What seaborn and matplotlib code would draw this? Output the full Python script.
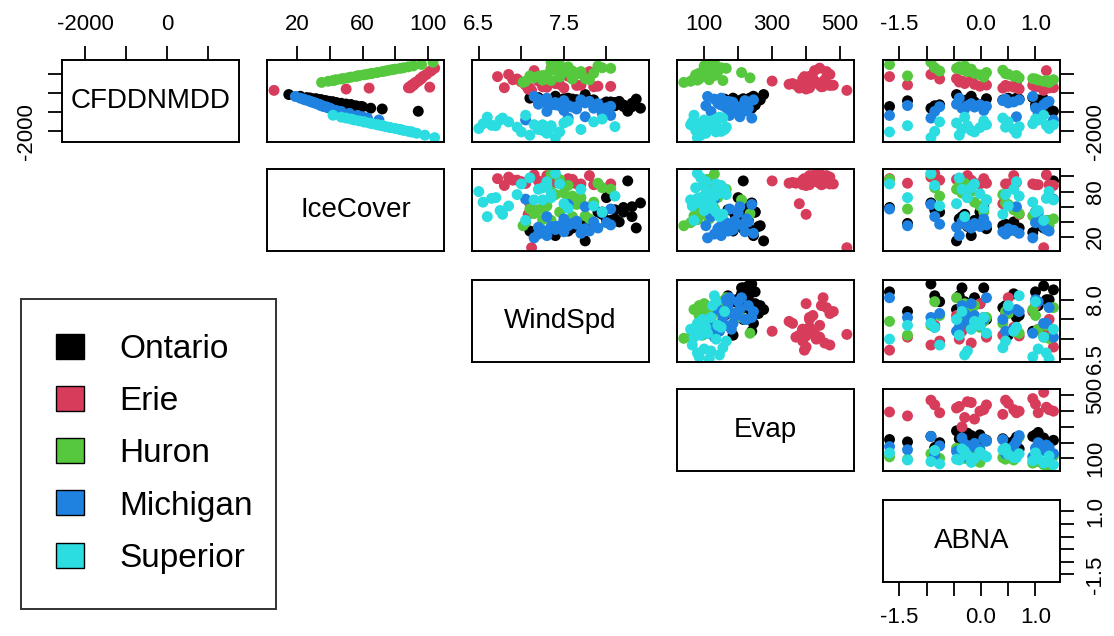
import pandas as pd
import matplotlib
matplotlib.use('Agg')
import matplotlib.pyplot as plt
from matplotlib.patches import Patch
import seaborn as sns


LAKES = ['Ontario', 'Erie', 'Huron', 'Michigan', 'Superior']
COLORS = ['#000000', '#D73C5B', '#55C83E', '#1F82E0', '#2BDCE0']
VARS = ['CFDDNMDD', 'IceCover', 'WindSpd', 'Evap', 'ABNA']

# ABNA is one value per year, shared by all lakes
abna = [-1.68, -1.35, -0.92, -0.85, -0.76, -0.45, -0.35, -0.25, -0.12, -0.02,
        0.10, 0.40, 0.50, 0.60, 0.70, 0.95, 1.05, 1.15, 1.25, 1.33,
        -0.40, -0.30, -0.18, 0.05, 0.45, 0.65, 1.00, 1.20]

ontario_cfdd = [-690, -390, -780, -650, -600, -60, -520, -330, -450, -600,
                -280, -350, -250, -420, -300, -220, -340, -300, -820, -940,
                -480, -560, -150, -700, -380, -250, -610, -450]
ontario_ice = [59, 38, 65, 56, 53, 15, 47, 34, 42, 53, 31, 35, 28, 40, 32, 26, 35, 32, 72, 94,
               44, 50, 22, 60, 37, 28, 53, 42]
ontario_wind = [8.20, 7.70, 8.40, 8.10, 7.95, 7.75, 8.30, 7.65, 8.05, 7.90,
                7.50, 7.80, 7.10, 8.15, 7.60, 7.20, 7.85, 8.35, 8.00, 8.25,
                8.10, 7.95, 7.40, 8.30, 7.85, 7.55, 8.20, 8.00]
ontario_evap = [220, 205, 240, 170, 200, 275, 210, 260, 230, 250,
                215, 225, 185, 210, 160, 240, 265, 230, 200, 215,
                225, 190, 245, 215, 205, 235, 250, 195]

erie_cfdd = [885, 448, 1000, 1330, 760, 780, 650, 1150, 480, 380,
             440, 280, 370, 330, 230, 430, 350, 160, 290, 300,
             600, 520, 720, 900, 420, 560, 350, 1200]
erie_ice = [97, 91, 99, 104, 95, 96, 94, 101, 91, 90, 91, 64, 90, 101, 50, 90, 89, 6, 89, 88,
            93, 92, 95, 97, 90, 92, 89, 102]
erie_wind = [6.72, 7.05, 6.85, 7.35, 6.95, 7.60, 7.20, 7.80, 7.45, 7.90,
             7.05, 7.10, 8.05, 7.30, 7.08, 7.70, 7.25, 7.12, 7.50, 6.80,
             7.00, 7.40, 6.90, 7.55, 7.65, 7.25, 7.85, 7.15]
erie_evap = [395, 370, 470, 440, 390, 420, 300, 460, 350, 400,
             440, 380, 450, 410, 400, 480, 390, 520, 410, 400,
             430, 360, 455, 410, 470, 390, 445, 425]

huron_cfdd = [1520, 920, 1640, 1350, 1180, 1320, 1250, 1150, 1060, 980,
              1100, 1220, 1010, 900, 820, 780, 700, 640, 580, 720,
              1400, 1450, 1280, 860, 1040, 940, 760, 680]
huron_ice = [96, 57, 103, 85, 74, 83, 78, 72, 66, 61, 69, 76, 63, 56, 51, 48, 43, 39, 35, 44,
             88, 91, 80, 53, 65, 58, 47, 42]
huron_wind = [7.45, 7.10, 7.35, 7.95, 7.60, 8.05, 7.50, 7.70, 7.85, 7.30,
              7.55, 7.40, 7.65, 7.20, 7.15, 7.75, 7.25, 7.05, 7.02, 7.80,
              7.55, 7.90, 7.35, 7.45, 7.70, 7.25, 7.60, 7.35]
huron_evap = [110, 95, 130, 150, 100, 165, 120, 140, 85, 75,
              210, 105, 125, 90, 235, 70, 80, 60, 40, 115,
              120, 100, 145, 110, 95, 130, 85, 155]

michigan_cfdd = [-1160, -640, -1300, -950, -700, -570, -780, -650, -720, -600,
                 -680, -380, -500, -450, -340, -160, -1050, -600, -420, -1400,
                 -250, -820, -540, -900, -300, -1230, -760, -480]
michigan_ice = [57, 35, 63, 47, 37, 33, 40, 35, 38, 34, 36, 27, 31, 29, 25, 19, 52, 34, 28, 70,
                22, 41, 32, 44, 24, 60, 39, 30]
michigan_wind = [8.05, 7.55, 7.55, 7.30, 7.65, 7.20, 7.85, 7.45, 7.60, 7.35,
                 8.05, 7.50, 7.75, 7.25, 7.70, 7.15, 7.95, 7.40, 7.80, 7.05,
                 7.30, 7.65, 7.90, 7.50, 7.20, 7.75, 8.00, 7.40]
michigan_evap = [175, 155, 240, 120, 180, 145, 230, 105, 195, 160,
                 210, 220, 140, 180, 245, 110, 200, 150, 170, 130,
                 150, 190, 170, 225, 130, 205, 165, 185]

superior_cfdd = [-2030, -1700, -2330, -2000, -1500, -1560, -1900, -1700, -2030, -1800,
                 -1650, -1300, -1500, -1900, -1750, -1600, -1400, -1150, -1850, -1650,
                 -2200, -1250, -1950, -1450, -1780, -2100, -1350, -1680]
superior_ice = [90, 72, 104, 88, 61, 64, 83, 72, 90, 77, 69, 50, 61, 83, 74, 66, 55, 42, 80, 69,
                98, 47, 85, 58, 76, 93, 53, 71]
superior_wind = [7.00, 7.35, 7.40, 7.30, 6.85, 7.50, 7.70, 6.70, 7.45, 7.35,
                 7.15, 6.78, 7.85, 7.20, 8.10, 6.55, 6.75, 7.05, 6.50, 7.25,
                 7.10, 6.60, 7.25, 7.55, 6.95, 7.30, 7.95, 6.65]
superior_evap = [135, 90, 80, 150, 65, 95, 160, 120, 100, 140,
                 110, 155, 125, 105, 130, 85, 100, 70, 115, 60,
                 90, 145, 75, 120, 165, 105, 135, 80]

# axis ranges and ticks as R's pairs() drew them
LIMITS = {'CFDDNMDD': (-2560, 1760), 'IceCover': (1.7, 109.7), 'WindSpd': (6.42, 8.5),
          'Evap': (20, 541), 'ABNA': (-1.8, 1.45)}
TICKS = {'CFDDNMDD': [-2000, -1000, 0, 1000], 'IceCover': [20, 40, 60, 80, 100],
         'WindSpd': [6.5, 7.0, 7.5, 8.0], 'Evap': [100, 200, 300, 400, 500],
         'ABNA': [-1.5, -1.0, -0.5, 0.0, 0.5, 1.0]}
X_LABELS = {'CFDDNMDD': ['-2000', '', '0', ''], 'IceCover': ['20', '', '60', '', '100'],
            'WindSpd': ['6.5', '', '7.5', ''], 'Evap': ['100', '', '300', '', '500'],
            'ABNA': ['-1.5', '', '', '0.0', '', '1.0']}
Y_LABELS = {'CFDDNMDD': ['-2000', '', '', ''], 'IceCover': ['20', '', '', '80', ''],
            'WindSpd': ['6.5', '', '', '8.0'], 'Evap': ['100', '', '', '', '500'],
            'ABNA': ['-1.5', '', '', '', '', '1.0']}

frames = []
for lake, cfdd, ice, wind, evap in zip(
        LAKES,
        [ontario_cfdd, erie_cfdd, huron_cfdd, michigan_cfdd, superior_cfdd],
        [ontario_ice, erie_ice, huron_ice, michigan_ice, superior_ice],
        [ontario_wind, erie_wind, huron_wind, michigan_wind, superior_wind],
        [ontario_evap, erie_evap, huron_evap, michigan_evap, superior_evap]):
    frames.append(pd.DataFrame({'Lake': lake, 'CFDDNMDD': cfdd, 'IceCover': ice,
                                'WindSpd': wind, 'Evap': evap, 'ABNA': abna}))
df = pd.concat(frames, ignore_index=True)

sns.set_style('ticks')
plt.rcParams['font.family'] = ['Liberation Sans', 'DejaVu Sans']
plt.rcParams['text.color'] = 'black'
plt.rcParams['xtick.color'] = 'black'
plt.rcParams['ytick.color'] = 'black'

W, H = 1114, 636
COL_X = [62, 267, 472, 677, 883]
ROW_Y = [60, 169, 280, 389, 500]
PW, PH = 177, 82


def add_axis(ax, var, side):
    if side in ('top', 'bottom'):
        ax.set_xticks(TICKS[var], X_LABELS[var])
        ax.xaxis.set_ticks_position(side)
        ax.tick_params(axis='x', direction='out', length=10, width=1.3, pad=8, labelsize=16,
                       colors='black')
    else:
        ax.set_yticks(TICKS[var], Y_LABELS[var])
        ax.yaxis.set_ticks_position(side)
        ax.tick_params(axis='y', direction='out', length=10, width=1.3, pad=8, labelsize=16,
                       labelrotation=90, colors='black')
        for t in ax.get_yticklabels():
            t.set_va('center')


fig = plt.figure(figsize=(W / 100, H / 100), dpi=100)

for i, yv in enumerate(VARS):
    for j, xv in enumerate(VARS):
        if j < i:
            continue
        ax = fig.add_axes([COL_X[j] / W, 1 - (ROW_Y[i] + PH) / H, PW / W, PH / H])
        if i == j:
            ax.text(0.5, 0.5, xv, transform=ax.transAxes, ha='center', va='center',
                    fontsize=20, color='black')
        else:
            sns.scatterplot(data=df, x=xv, y=yv, hue='Lake', hue_order=LAKES, palette=COLORS,
                            s=62, linewidth=0, alpha=1, legend=False, ax=ax)
            ax.set_xlabel('')
            ax.set_ylabel('')
        ax.set_xlim(LIMITS[xv])
        ax.set_ylim(LIMITS[yv])
        ax.set_xticks([])
        ax.set_yticks([])
        for s in ax.spines.values():
            s.set_linewidth(1.4)
            s.set_color('black')
        if i == 0:
            add_axis(ax, xv, 'top')
        if j == 4:
            add_axis(ax, yv, 'right')
        if i == 0 and j == 0:
            add_axis(ax, yv, 'left')
        if i == 4:
            add_axis(ax, xv, 'bottom')

handles = [Patch(facecolor=c, edgecolor='black', linewidth=1.0, label=l) for l, c in zip(LAKES, COLORS)]
leg = fig.legend(handles=handles, loc='upper left',
                 bbox_to_anchor=(21 / W, (H - 610) / H, 255 / W, 311 / H), mode='expand',
                 frameon=True, fancybox=False, edgecolor='black', fontsize=24,
                 handlelength=0.84, handleheight=0.78, handletextpad=1.05,
                 labelspacing=0.63, borderpad=1.05, borderaxespad=0)
leg.get_frame().set_linewidth(1.4)
for t in leg.get_texts():
    t.set_color('black')

fig.savefig('out.png', dpi=100)
